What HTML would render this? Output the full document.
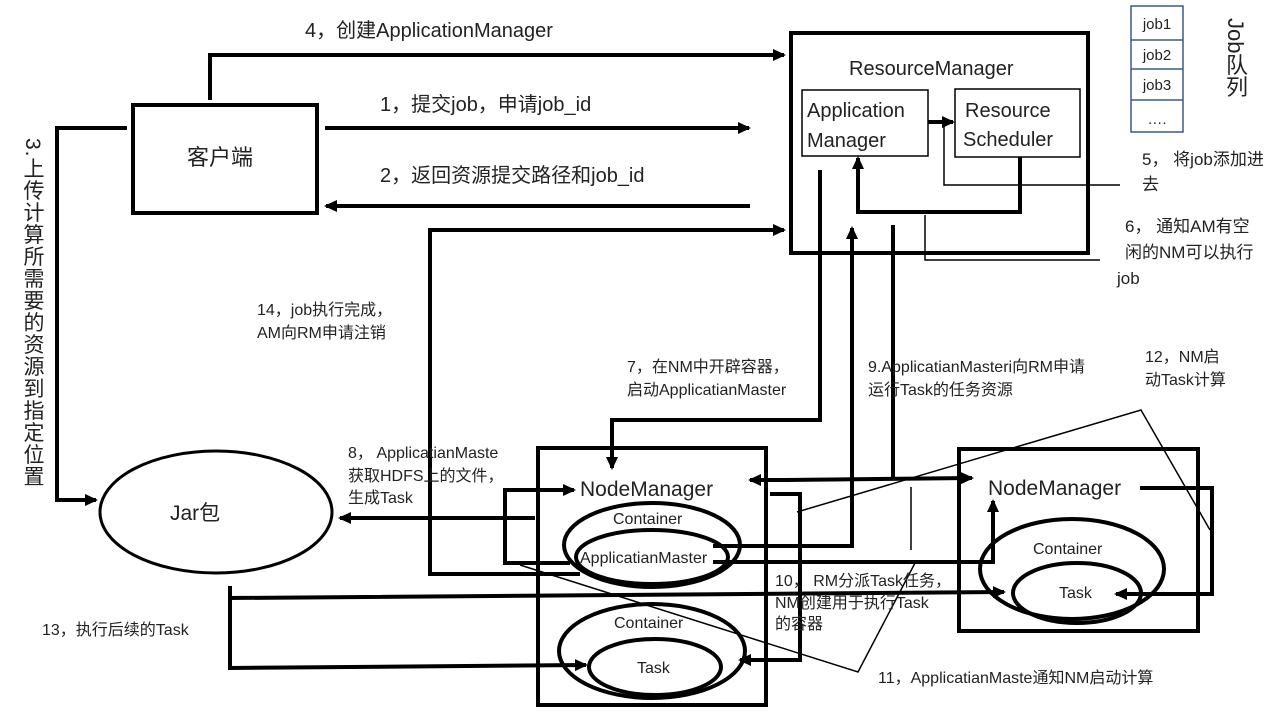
<!DOCTYPE html>
<html><head><meta charset="utf-8"><style>
body{margin:0;background:#fff;}
#w{position:relative;width:1280px;height:720px;overflow:hidden;font-family:"Liberation Sans","Noto Sans CJK SC",sans-serif;color:#222;}
svg{position:absolute;left:0;top:0;}
.v{position:absolute;left:20px;top:138px;writing-mode:vertical-rl;text-orientation:mixed;font-size:21px;line-height:24px;letter-spacing:1px;}
.j{position:absolute;left:1222px;top:18px;writing-mode:vertical-rl;text-orientation:mixed;font-size:22px;line-height:26px;}
</style></head><body><div id="w">
<svg width="1280" height="720" font-family="Liberation Sans, Noto Sans CJK SC, sans-serif" fill="#222">
<defs><marker id="a" markerWidth="13" markerHeight="12" refX="11" refY="6" orient="auto" markerUnits="userSpaceOnUse"><path d="M0,0 L13,6 L0,12 z" fill="#000"/></marker></defs>
<g fill="none" stroke="#000" stroke-width="4">
<rect x="791" y="33" width="297" height="220"/>
<rect x="133" y="105" width="184" height="108"/>
<rect x="538" y="448" width="228" height="257"/>
<rect x="959" y="449" width="239" height="182"/>
<ellipse cx="216" cy="512" rx="116" ry="61" stroke-width="3"/>
<ellipse cx="652" cy="545" rx="88" ry="42"/>
<ellipse cx="652" cy="557" rx="76" ry="27"/>
<ellipse cx="652" cy="651" rx="93" ry="47"/>
<ellipse cx="655" cy="667" rx="66" ry="28"/>
<ellipse cx="1072" cy="569" rx="92" ry="50"/>
<ellipse cx="1077" cy="593" rx="64" ry="30"/>
<polyline points="210,100 210,55 784,55" marker-end="url(#a)"/>
<line x1="325" y1="128" x2="749" y2="128" marker-end="url(#a)"/>
<line x1="750" y1="206" x2="326" y2="206" marker-end="url(#a)"/>
<polyline points="127,128 57,128 57,500 96,500" marker-end="url(#a)"/>
<polyline points="928,122 953,122" marker-end="url(#a)"/>
<polyline points="1020,157 1020,212 858,212 858,158" marker-end="url(#a)"/>
<polyline points="820,170 820,420 612,420 612,468" marker-end="url(#a)"/>
<polyline points="713,546 852,546 852,228" marker-end="url(#a)"/>
<polyline points="580,574 430,574 430,230 784,230" marker-end="url(#a)"/>
<line x1="893" y1="225" x2="893" y2="478"/>
<line x1="785" y1="480" x2="972" y2="478" marker-end="url(#a)"/>
<line x1="790" y1="480" x2="750" y2="480" marker-end="url(#a)"/>
<line x1="535" y1="518" x2="340" y2="518" marker-end="url(#a)"/>
<polyline points="570,563 505,563 505,490 574,490" marker-end="url(#a)"/>
<polyline points="770,494 800,494 800,660 740,660" marker-end="url(#a)"/>
<polyline points="713,562 993,562 993,501" marker-end="url(#a)"/>
<polyline points="230,586 230,598 1004,592" marker-end="url(#a)"/>
<polyline points="230,598 230,668 586,665" marker-end="url(#a)"/>
<polyline points="1140,488 1212,488 1212,594 1116,594" marker-end="url(#a)"/>
</g>
<g fill="none" stroke="#000" stroke-width="1.5">
<rect x="802" y="90" width="126" height="66"/>
<rect x="955" y="89" width="125" height="68"/>
<polyline points="944,122 944,185 1120,185"/>
<polyline points="925,215 925,260 1100,260"/>
<polyline points="797,512 1141,410 1210,530"/>
<polyline points="520,565 858,672 915,563"/>
<line x1="911" y1="487" x2="911" y2="550"/>
</g>
<g fill="none" stroke="#3a5a8a" stroke-width="1.5">
<rect x="1131" y="6" width="52" height="126"/>
<line x1="1131" y1="40" x2="1183" y2="40"/><line x1="1131" y1="69" x2="1183" y2="69"/><line x1="1131" y1="100" x2="1183" y2="100"/>
</g>
<g font-size="15"><text x="1157" y="29" text-anchor="middle">job1</text><text x="1157" y="60" text-anchor="middle">job2</text><text x="1157" y="90" text-anchor="middle">job3</text><text x="1157" y="124" text-anchor="middle">….</text></g>
<text x="305" y="37" font-size="20">4，创建ApplicationManager</text>
<text x="380" y="111" font-size="20">1，提交job，申请job_id</text>
<text x="380" y="182" font-size="20">2，返回资源提交路径和job_id</text>
<text x="187" y="165" font-size="22">客户端</text>
<text x="849" y="75" font-size="20">ResourceManager</text>
<text x="807" y="117" font-size="20">Application</text>
<text x="807" y="147" font-size="20">Manager</text>
<text x="965" y="117" font-size="20">Resource</text>
<text x="963" y="146" font-size="20">Scheduler</text>
<text x="1142" y="165" font-size="17">5， 将job添加进</text>
<text x="1142" y="190" font-size="17">去</text>
<text x="1125" y="232" font-size="17">6， 通知AM有空</text>
<text x="1125" y="258" font-size="17">闲的NM可以执行</text>
<text x="1117" y="284" font-size="17">job</text>
<text x="257" y="315" font-size="16">14，job执行完成，</text>
<text x="257" y="338" font-size="16">AM向RM申请注销</text>
<text x="627" y="372" font-size="16">7，在NM中开辟容器，</text>
<text x="627" y="395" font-size="16">启动ApplicatianMaster</text>
<text x="868" y="372" font-size="16">9.ApplicatianMasteri向RM申请</text>
<text x="868" y="395" font-size="16">运行Task的任务资源</text>
<text x="1145" y="362" font-size="16">12，NM启</text>
<text x="1145" y="385" font-size="16">动Task计算</text>
<text x="348" y="458" font-size="16">8， ApplicatianMaste</text>
<text x="348" y="481" font-size="16">获取HDFS上的文件，</text>
<text x="348" y="503" font-size="16">生成Task</text>
<text x="170" y="520" font-size="21">Jar包</text>
<text x="580" y="496" font-size="21">NodeManager</text>
<text x="613" y="524" font-size="16">Container</text>
<text x="580" y="563" font-size="16">ApplicatianMaster</text>
<text x="614" y="628" font-size="16">Container</text>
<text x="637" y="673" font-size="16">Task</text>
<text x="988" y="495" font-size="21">NodeManager</text>
<text x="1033" y="554" font-size="16">Container</text>
<text x="1059" y="598" font-size="16">Task</text>
<text x="775" y="586" font-size="16">10， RM分派Task任务，</text>
<text x="775" y="608" font-size="16">NM创建用于执行Task</text>
<text x="775" y="629" font-size="16">的容器</text>
<text x="42" y="635" font-size="16">13，执行后续的Task</text>
<text x="878" y="683" font-size="16">11，ApplicatianMaste通知NM启动计算</text>
</svg>
<div class="v">3.上传计算所需要的资源到指定位置</div>
<div class="j">Job队列</div>
</div></body></html>
